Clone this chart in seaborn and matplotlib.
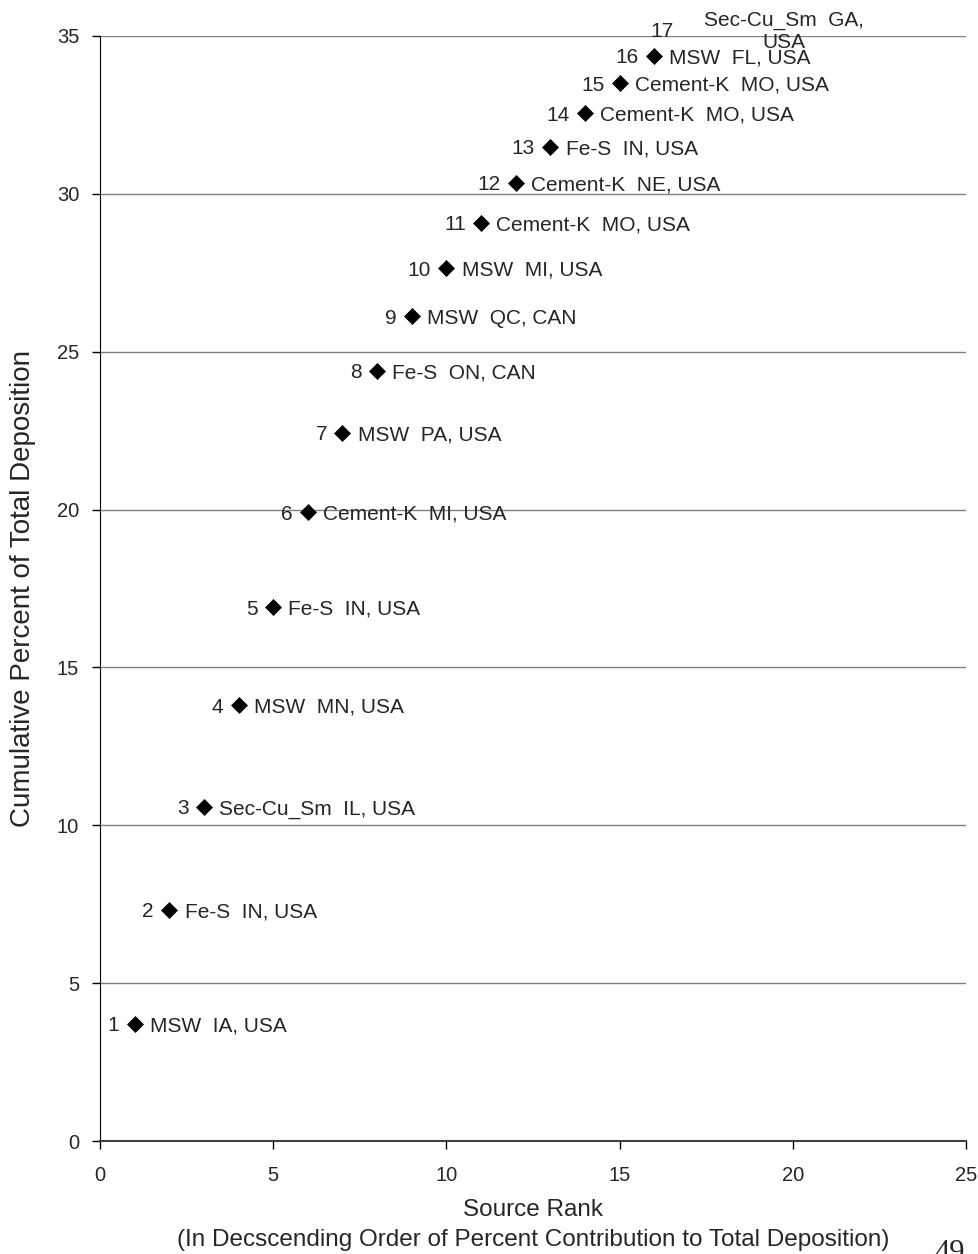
import numpy as np
import pandas as pd
import matplotlib.pyplot as plt
import seaborn as sns

# Data
rank = [1, 2, 3, 4, 5, 6, 7, 8, 9, 10, 11, 12, 13, 14, 15, 16, 17]
cum_pct = [3.71, 7.32, 10.58, 13.81, 16.91, 19.92, 22.43, 24.39, 26.13,
           27.65, 29.08, 30.35, 31.49, 32.56, 33.51, 34.37, 35.13]
source = ["MSW  IA, USA", "Fe-S  IN, USA", "Sec-Cu_Sm  IL, USA", "MSW  MN, USA",
          "Fe-S  IN, USA", "Cement-K  MI, USA", "MSW  PA, USA", "Fe-S  ON, CAN",
          "MSW  QC, CAN", "MSW  MI, USA", "Cement-K  MO, USA", "Cement-K  NE, USA",
          "Fe-S  IN, USA", "Cement-K  MO, USA", "Cement-K  MO, USA", "MSW  FL, USA",
          "Sec-Cu_Sm  GA,\nUSA"]

df = pd.DataFrame({'rank': rank, 'pct': cum_pct, 'source': source})

sns.set_style('white')
plt.rcParams['font.family'] = ['Liberation Sans', 'DejaVu Sans']

fig = plt.figure(figsize=(9.79, 12.54), dpi=100)
ax = fig.add_axes([0.1021, 0.0901, 0.8846, 0.8812])

# markers outside the plot area are not shown (as in the original)
shown = df[df['pct'] <= 35]
sns.scatterplot(data=shown, x='rank', y='pct', marker='D', s=75, color='black',
                linewidth=0, ax=ax, zorder=3)

# point labels: rank to the left, source to the right
for r, p, s in zip(df['rank'], df['pct'], df['source']):
    va = 'center' if '\n' in s else 'center_baseline'
    ax.annotate(str(r), (r, p), xytext=(-11, 0), textcoords='offset points',
                ha='right', va=va, fontsize=15, annotation_clip=False)
    ax.annotate(s, (r, p), xytext=(11, 0), textcoords='offset points',
                ha='left', va=va, fontsize=15, multialignment='center',
                linespacing=1.2, annotation_clip=False)

ax.set_xlim(0, 25)
ax.set_ylim(0, 35)
ax.set_xticks(range(0, 26, 5))
ax.set_yticks(range(0, 36, 5))
ax.yaxis.grid(True, color='#808080', linewidth=1)
ax.set_axisbelow(True)
ax.tick_params(axis='both', labelsize=14.5, length=6, width=1, color='black',
               direction='out', bottom=True, left=True)
ax.tick_params(axis='x', pad=12)
ax.tick_params(axis='y', pad=9)

sns.despine(ax=ax, top=True, right=True)
ax.spines['left'].set_color('black')
ax.spines['bottom'].set_color('#404040')
ax.spines['bottom'].set_linewidth(1.5)

ax.set_ylabel('Cumulative Percent of Total Deposition', fontsize=20, labelpad=15)
ax.set_xlabel('Source Rank\n(In Decscending Order of Percent Contribution to Total Deposition)',
              fontsize=17.5, linespacing=1.45, labelpad=10)

fig.text(0.970, 0.012, '49', fontsize=22, ha='center', va='top',
         family=['Liberation Serif', 'DejaVu Serif'])

fig.savefig('out.png', dpi=100)
